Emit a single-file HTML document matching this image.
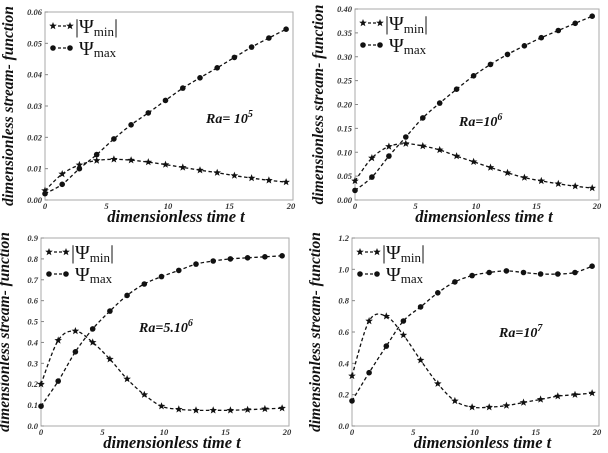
<!DOCTYPE html>
<html><head><meta charset="utf-8"><style>
body{margin:0;background:#fff;width:608px;height:453px;overflow:hidden}
svg{display:block}
text{font-family:"Liberation Serif",serif}
.tick{font-size:8.5px;font-weight:bold;font-style:italic;fill:#333}
.ttl{font-size:16.5px;font-weight:bold;font-style:italic;fill:#111}
.ytl{font-size:15.5px;font-weight:bold;font-style:italic;fill:#111}
.leg{font-size:20px;fill:#111}
.ra{font-size:14px;font-weight:bold;font-style:italic;fill:#111}
</style></head><body>
<svg id="c" width="608" height="453"></svg>
<script>
const times=[0,1.4,2.8,4.2,5.6,7,8.4,9.8,11.2,12.6,14,15.4,16.8,18.2,19.6];
const xTicks=[0,5,10,15,20];
const tlMin=[0.003,0.0083,0.0112,0.0126,0.013,0.0127,0.0121,0.0113,0.0104,0.0095,0.0087,0.0078,0.0070,0.0063,0.0057];
const tlMax=[0.002,0.005,0.0100,0.0145,0.0195,0.024,0.0278,0.0318,0.0357,0.039,0.0422,0.0455,0.0488,0.0517,0.0545];
const tlTicks=["0.00","0.01","0.02","0.03","0.04","0.05","0.06"];
const trMin=[0.04,0.088,0.112,0.118,0.113,0.105,0.092,0.080,0.068,0.057,0.047,0.040,0.034,0.029,0.025];
const trMax=[0.02,0.048,0.092,0.132,0.172,0.203,0.232,0.26,0.284,0.305,0.323,0.34,0.355,0.37,0.385];
const trTicks=["0.00","0.05","0.10","0.15","0.20","0.25","0.30","0.35","0.40"];
const blMin=[0.2,0.41,0.455,0.40,0.32,0.225,0.15,0.095,0.08,0.075,0.075,0.075,0.078,0.082,0.085];
const blMax=[0.095,0.215,0.355,0.465,0.55,0.625,0.68,0.715,0.745,0.775,0.79,0.80,0.805,0.81,0.815];
const blTicks=["0.0","0.1","0.2","0.3","0.4","0.5","0.6","0.7","0.8","0.9"];
const brMin=[0.32,0.67,0.70,0.58,0.42,0.27,0.16,0.12,0.12,0.13,0.15,0.17,0.19,0.20,0.21];
const brMax=[0.16,0.34,0.51,0.67,0.76,0.85,0.92,0.96,0.98,0.99,0.98,0.97,0.97,0.98,1.02];
const brTicks=["0.0","0.2","0.4","0.6","0.8","1.0","1.2"];

const NS="http://www.w3.org/2000/svg";
const svg=document.getElementById('c');
function mk(tag,at,parent,txt){const e=document.createElementNS(NS,tag);for(const k in at)e.setAttribute(k,at[k]);if(txt!=null)e.textContent=txt;(parent||svg).appendChild(e);return e;}
function star(cx,cy,r){let p=[];for(let i=0;i<10;i++){const a=-Math.PI/2+i*Math.PI/5;const rr=i%2?r*0.42:r;p.push((cx+rr*Math.cos(a)).toFixed(1)+','+(cy+rr*Math.sin(a)).toFixed(1));}return p.join(' ');}
function smooth(pts){let d='M'+pts[0][0]+','+pts[0][1];for(let i=0;i<pts.length-1;i++){const p0=pts[i-1]||pts[i],p1=pts[i],p2=pts[i+1],p3=pts[i+2]||p2;
const c1=[p1[0]+(p2[0]-p0[0])/6,p1[1]+(p2[1]-p0[1])/6],c2=[p2[0]-(p3[0]-p1[0])/6,p2[1]-(p3[1]-p1[1])/6];d+=' C'+c1+' '+c2+' '+p2;}return d;}

function panel(name,g,yMax,yTicks,sMin,sMax,ra,raPos){
  const G=mk('g',{},svg);
  
  
  const X=t=>g.x0+(g.x1-g.x0)*t/20, Y=v=>g.yb-(g.yb-g.yt)*v/yMax;
  const fr=mk('rect',{x:g.x0,y:g.yt,width:g.x1-g.x0+2,height:g.yb-g.yt,fill:'none',stroke:'#aaa','stroke-width':1},G);
  
  
  yTicks.forEach((l,i)=>{const v=yMax*i/(yTicks.length-1);
    const t=mk('text',{x:g.x0-3,y:Y(v)+3,'text-anchor':'end',class:'tick'},G,l);
    
    
    mk('line',{x1:g.x0,x2:g.x0+3,y1:Y(v),y2:Y(v),stroke:'#888'},G);});
  xTicks.forEach(v=>{const t=mk('text',{x:X(v),y:g.yb+9,'text-anchor':'middle',class:'tick'},G,v);
    
    });
  const xt=mk('text',{x:(g.x0+g.x1)/2+8,y:g.yb+22,'text-anchor':'middle',class:'ttl'},G,'dimensionless  time t');
  
  
  const yx=g.x0-32,yy=(g.yt+g.yb)/2;
  const yt=mk('text',{x:yx,y:yy,'text-anchor':'middle',class:'ytl',transform:`rotate(-90 ${yx} ${yy})`},G,'dimensionless stream- function');
  
  
  [[sMin,'min'],[sMax,'max']].forEach(([s,k])=>{
    const pts=s.map((v,i)=>[+X(times[i]).toFixed(1),+Y(v).toFixed(1)]);
    const p=mk('path',{d:smooth(pts),fill:'none',stroke:'#111','stroke-width':1.3,'stroke-dasharray':'3.5,2.5'},G);
    
    
    pts.forEach(q=>{let m;
      if(k=='min')m=mk('polygon',{points:star(q[0],q[1],4),fill:'#111'},G);
      else m=mk('circle',{cx:q[0],cy:q[1],r:2.8,fill:'#111'},G);
      
      });
  });
  const lx=g.x0+8,ly1=g.yt+14,ly2=g.yt+36;
  mk('polygon',{points:star(lx,ly1,4),fill:'#111'},G);
  mk('line',{x1:lx+5,x2:lx+13,y1:ly1,y2:ly1,stroke:'#111','stroke-width':1.3,'stroke-dasharray':'3,2'},G);
  mk('polygon',{points:star(lx+17,ly1,4),fill:'#111'},G);
  const l1=mk('text',{x:lx+22,y:ly1+7,class:'leg'},G);
  
  
  l1.innerHTML='|Ψ<tspan font-size="13" dy="3">min</tspan><tspan dy="-3">|</tspan>';
  mk('circle',{cx:lx,cy:ly2,r:2.8,fill:'#111'},G);
  mk('line',{x1:lx+5,x2:lx+13,y1:ly2,y2:ly2,stroke:'#111','stroke-width':1.3,'stroke-dasharray':'3,2'},G);
  mk('circle',{cx:lx+17,cy:ly2,r:2.8,fill:'#111'},G);
  const l2=mk('text',{x:lx+26,y:ly2+7,class:'leg'},G);
  
  
  l2.innerHTML='Ψ<tspan font-size="13" dy="2">max</tspan>';
  const r=mk('text',{x:raPos[0],y:raPos[1],class:'ra'},G);
  
  
  r.innerHTML=ra[0]+'<tspan font-size="10" dy="-6">'+ra[1]+'</tspan>';
}
panel('panel-ra-1e5',{x0:45,x1:291,yt:12,yb:200},0.06,tlTicks,tlMin,tlMax,['Ra= 10','5'],[206,123]);
panel('panel-ra-1e6',{x0:355,x1:597,yt:9,yb:200},0.40,trTicks,trMin,trMax,['Ra=10','6'],[459,126]);
panel('panel-ra-5e6',{x0:41,x1:287,yt:238,yb:426},0.9,blTicks,blMin,blMax,['Ra=5.10','6'],[139,332]);
panel('panel-ra-1e7',{x0:352,x1:597,yt:238,yb:426},1.2,brTicks,brMin,brMax,['Ra=10','7'],[499,337]);
</script>
</body></html>
